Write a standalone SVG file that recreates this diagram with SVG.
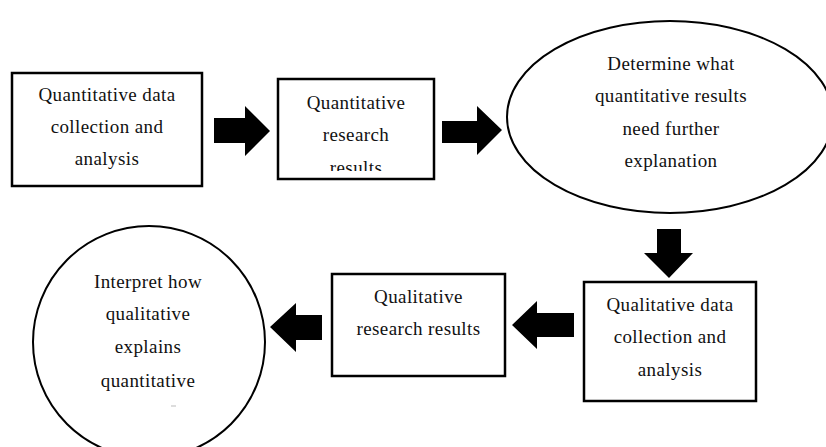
<svg xmlns="http://www.w3.org/2000/svg" width="826" height="447" viewBox="0 0 826 447">
<style>
.box{fill:#fff;stroke:#000;stroke-width:2.5}
.ell{fill:#fff;stroke:#000;stroke-width:2}
.t{font-family:"Liberation Serif","Times New Roman",serif;font-size:19px;letter-spacing:0.4px;fill:#111;text-anchor:middle}
.arr{fill:#000}
</style>
<defs>
<clipPath id="clip2"><rect x="278" y="79" width="156" height="92"/></clipPath>
</defs>
<rect width="826" height="447" fill="#fff"/>
<g id="connectors">
<polygon class="arr" points="214,118 245,118 245,106 270,131 245,156 245,143 214,143"/>
<polygon class="arr" points="442,121 477,121 477,106 502,130 477,155 477,143 442,143"/>
<polygon class="arr" points="657,229 681,229 681,253 693,253 669,278 644,253 657,253"/>
<polygon class="arr" points="574,313 537,313 537,301 512,325 537,349 537,337 574,337"/>
<polygon class="arr" points="322,315 296,315 296,303 270,327 296,352 296,340 322,340"/>
</g>
<g id="n1">
<rect class="box" x="12" y="73" width="190" height="113"/>
<text class="t" x="107" y="101">Quantitative data</text>
<text class="t" x="107" y="133">collection and</text>
<text class="t" x="107" y="165">analysis</text>
</g>
<g id="n2">
<rect class="box" x="278" y="79" width="156" height="100"/>
<g clip-path="url(#clip2)">
<text class="t" x="356" y="109">Quantitative</text>
<text class="t" x="356" y="141">research</text>
<text class="t" x="356" y="174">results</text>
</g>
</g>
<g id="n3">
<ellipse class="ell" cx="670" cy="117" rx="163" ry="96"/>
<text class="t" x="671" y="70">Determine what</text>
<text class="t" x="671" y="102">quantitative results</text>
<text class="t" x="671" y="135">need further</text>
<text class="t" x="671" y="167">explanation</text>
</g>
<g id="n4">
<rect class="box" x="584" y="282" width="172" height="119"/>
<text class="t" x="670" y="311">Qualitative data</text>
<text class="t" x="670" y="343">collection and</text>
<text class="t" x="670" y="376">analysis</text>
</g>
<g id="n5">
<rect class="box" x="332" y="274" width="173" height="102"/>
<text class="t" x="418.5" y="303">Qualitative</text>
<text class="t" x="418.5" y="335">research results</text>
</g>
<g id="n6">
<circle class="ell" cx="149" cy="342" r="116"/>
<text class="t" x="148" y="288">Interpret how</text>
<text class="t" x="148" y="320">qualitative</text>
<text class="t" x="148" y="353">explains</text>
<text class="t" x="148" y="387">quantitative</text>
<line x1="171" y1="406" x2="176" y2="406" stroke="#bbb" stroke-width="1"/>
</g>
</svg>
